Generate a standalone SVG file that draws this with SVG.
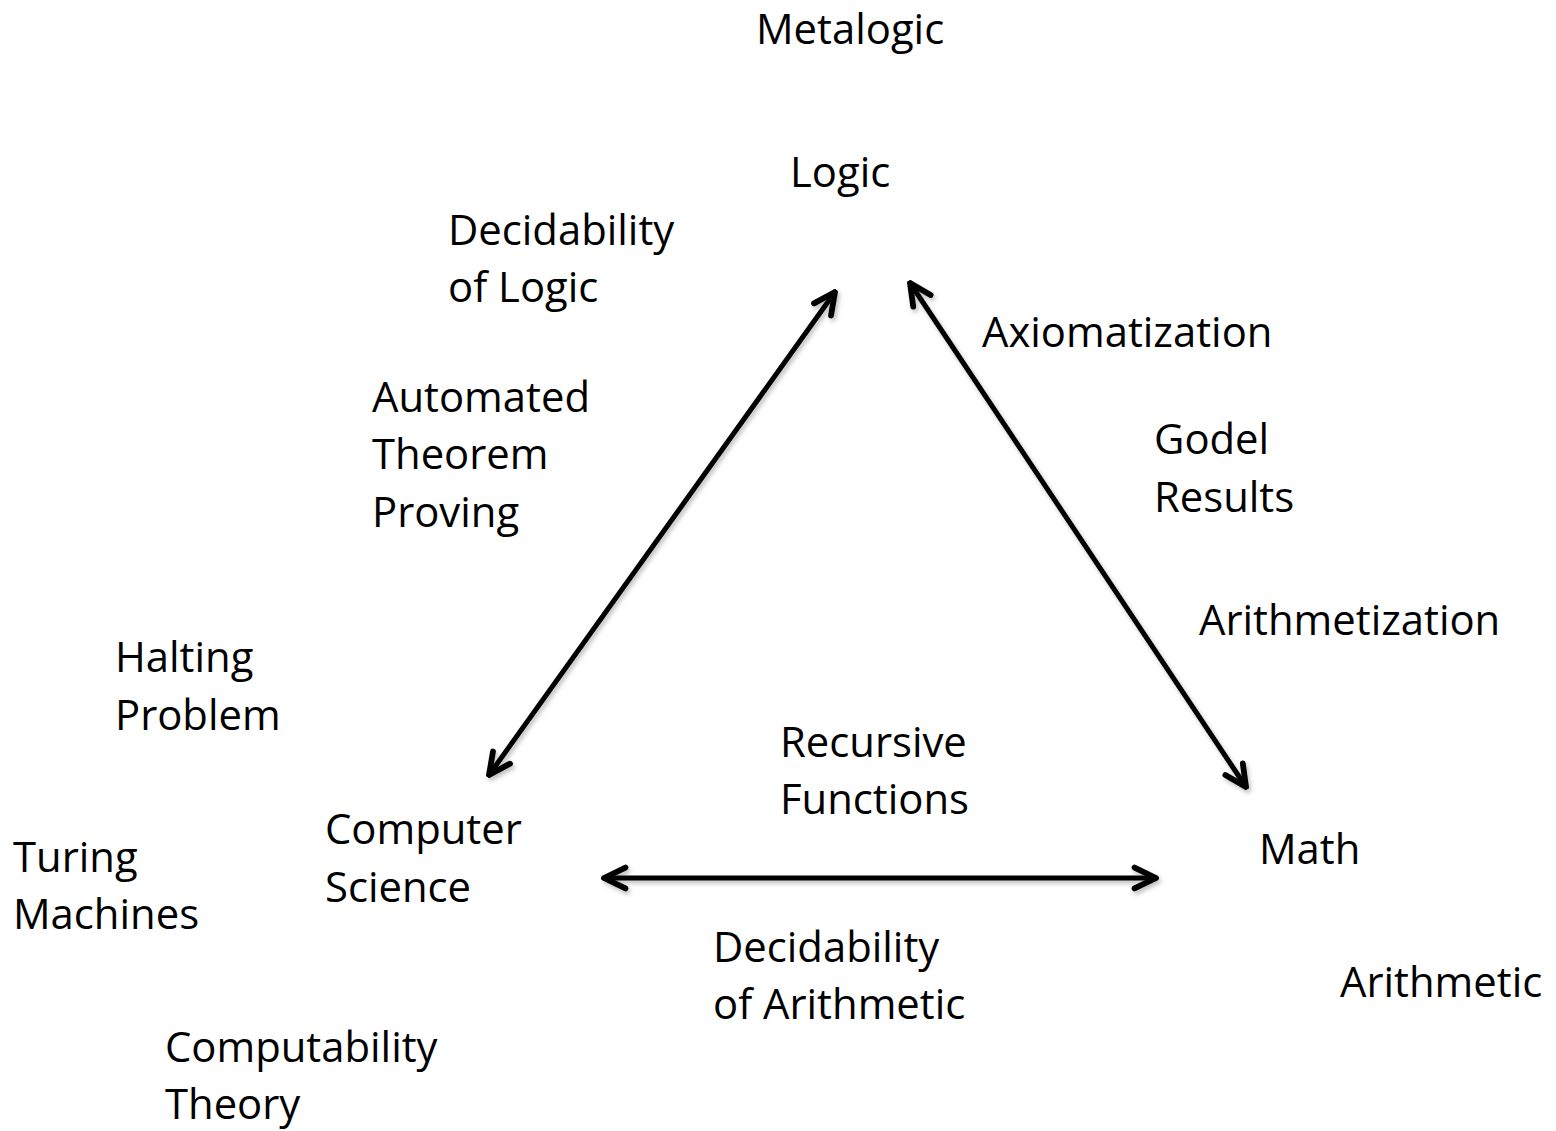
<svg xmlns="http://www.w3.org/2000/svg" width="1556" height="1131" viewBox="0 0 1556 1131">
<style>
text{font-family:"Open Sans","Noto Sans",sans-serif;font-size:41.8px;fill:#000}
.c{stroke:#000;stroke-width:5;fill:none;stroke-linecap:round}
</style>
<defs>
<marker id="ah" viewBox="0 0 10 10" refX="9" refY="5" markerWidth="5.5" markerHeight="5.5" orient="auto-start-reverse" markerUnits="strokeWidth">
<path d="M1.2,1.2 L9,5 L1.2,8.8" fill="none" stroke="#000" stroke-width="2.1" stroke-linecap="round" stroke-linejoin="round"/>
</marker>
<filter id="sh" x="-10%" y="-10%" width="120%" height="120%">
<feDropShadow dx="2" dy="3" stdDeviation="2" flood-color="#000" flood-opacity="0.25"/>
</filter>
</defs>
<g id="connectors" filter="url(#sh)">
<line class="c" x1="835" y1="292" x2="489" y2="775" marker-start="url(#ah)" marker-end="url(#ah)"/>
<line class="c" x1="910" y1="283" x2="1246" y2="787" marker-start="url(#ah)" marker-end="url(#ah)"/>
<line class="c" x1="604" y1="878" x2="1156" y2="878" marker-start="url(#ah)" marker-end="url(#ah)"/>
</g>
<g id="metalogic"><text x="756" y="44">Metalogic</text></g>
<g id="logic"><text x="790" y="187">Logic</text></g>
<g id="decidability-logic"><text x="448" y="245">Decidability</text><text x="448" y="302">of Logic</text></g>
<g id="axiomatization"><text x="982" y="347">Axiomatization</text></g>
<g id="atp"><text x="372" y="412">Automated</text><text x="372" y="469">Theorem</text><text x="372" y="527">Proving</text></g>
<g id="godel"><text x="1154" y="454">Godel</text><text x="1154" y="512">Results</text></g>
<g id="arithmetization"><text x="1199" y="635">Arithmetization</text></g>
<g id="halting"><text x="115" y="672">Halting</text><text x="115" y="730">Problem</text></g>
<g id="recursive"><text x="780" y="757">Recursive</text><text x="780" y="814">Functions</text></g>
<g id="cs"><text x="325" y="844">Computer</text><text x="325" y="902">Science</text></g>
<g id="turing"><text x="13" y="872">Turing</text><text x="13" y="929">Machines</text></g>
<g id="math"><text x="1259" y="864">Math</text></g>
<g id="decidability-arith"><text x="713" y="962">Decidability</text><text x="713" y="1019">of Arithmetic</text></g>
<g id="arithmetic"><text x="1340" y="997">Arithmetic</text></g>
<g id="computability"><text x="165" y="1062">Computability</text><text x="165" y="1119">Theory</text></g>
</svg>
